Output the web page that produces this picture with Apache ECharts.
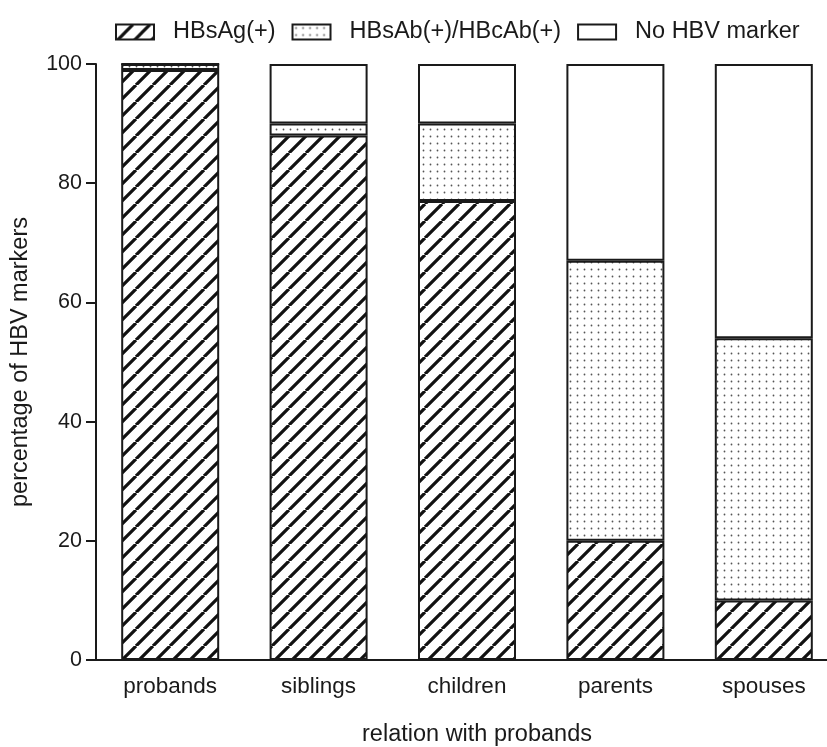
<!DOCTYPE html>
<html>
<head>
<meta charset="utf-8">
<script src="https://cdn.jsdelivr.net/npm/echarts@6/dist/echarts.min.js"></script>
<style>
html,body{margin:0;padding:0;background:#fff;}
#chart{width:827px;height:747px;}
</style>
</head>
<body>
<div id="chart"></div>
<script>
const categories = ['probands', 'siblings', 'children', 'parents', 'spouses'];
const hbsagPositive = [99, 88, 77, 20, 10];
const antibodyPositive = [1, 2, 13, 47, 44];
const noMarker = [0, 10, 10, 33, 46];
const yTicks = [0, 20, 40, 60, 80, 100];

function hatchPattern() {
  const s = 17;
  const c = document.createElement('canvas');
  c.width = s; c.height = s;
  const ctx = c.getContext('2d');
  ctx.fillStyle = '#fff';
  ctx.fillRect(0, 0, s, s);
  ctx.strokeStyle = '#111';
  ctx.lineWidth = 3.2;
  ctx.beginPath();
  for (const k of [-s, 0, s]) {
    ctx.moveTo(k, s);
    ctx.lineTo(k + s, 0);
  }
  ctx.stroke();
  return { image: c, repeat: 'repeat' };
}
function dotPattern() {
  const s = 7;
  const c = document.createElement('canvas');
  c.width = s; c.height = s;
  const ctx = c.getContext('2d');
  ctx.fillStyle = '#fff';
  ctx.fillRect(0, 0, s, s);
  ctx.fillStyle = '#555';
  ctx.beginPath();
  ctx.arc(3.5, 3.5, 0.9, 0, Math.PI * 2);
  ctx.fill();
  return { image: c, repeat: 'repeat' };
}

const font = 'Liberation Sans';
const ink = '#1a1a1a';
const chart = echarts.init(document.getElementById('chart'), null, { renderer: 'canvas' });

function barSeries(name, data, color) {
  return {
    name: name,
    type: 'bar',
    stack: 'total',
    data: data,
    barWidth: 98,
    itemStyle: { color: color, borderColor: ink, borderWidth: 2 },
    emphasis: { disabled: true }
  };
}

chart.setOption({
  animation: false,
  backgroundColor: '#fff',
  textStyle: { fontFamily: font },
  legend: {
    top: 15,
    left: 110,
    itemWidth: 38,
    itemHeight: 15,
    itemGap: 16,
    icon: 'rect',
    textStyle: { fontFamily: font, fontSize: 23.5, color: ink, padding: [0, 0, 0, 14] },
    data: ['HBsAg(+)', 'HBsAb(+)/HBcAb(+)', 'No HBV marker']
  },
  grid: { left: 96, right: -11, top: 64, bottom: 87, containLabel: false, outerBoundsMode: 'none' },
  xAxis: {
    type: 'category',
    data: categories,
    name: 'relation with probands',
    nameLocation: 'middle',
    nameGap: 63,
    nameTextStyle: { fontFamily: font, fontSize: 23.5, color: ink, padding: [0, 0, 0, 20] },
    axisLine: { lineStyle: { color: ink, width: 2 } },
    axisTick: { alignWithLabel: true, length: 11, lineStyle: { color: ink, width: 2 } },
    axisLabel: { fontFamily: font, fontSize: 22.5, color: ink, margin: 15 }
  },
  yAxis: {
    type: 'value',
    min: yTicks[0],
    max: yTicks[yTicks.length - 1],
    interval: yTicks[1] - yTicks[0],
    name: 'percentage of HBV markers',
    nameLocation: 'middle',
    nameGap: 63,
    nameTextStyle: { fontFamily: font, fontSize: 23.5, color: ink },
    axisLine: { show: true, lineStyle: { color: ink, width: 2 } },
    axisTick: { show: true, length: 10, lineStyle: { color: ink, width: 2 } },
    axisLabel: { fontFamily: font, fontSize: 21.5, color: ink, margin: 14 },
    splitLine: { show: false }
  },
  series: [
    barSeries('HBsAg(+)', hbsagPositive, hatchPattern()),
    barSeries('HBsAb(+)/HBcAb(+)', antibodyPositive, dotPattern()),
    barSeries('No HBV marker', noMarker, '#fff')
  ]
});
</script>
</body>
</html>
